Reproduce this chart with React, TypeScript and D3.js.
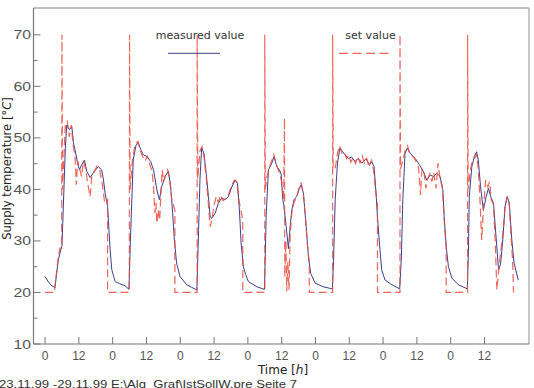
import React from 'react';
import * as d3 from 'd3';

// hours since 23.11.99 00:00, supply temperature in °C
const measured: [number, number][] = [
  [0, 23.1], [1, 22.2], [2, 21.5], [3.5, 20.9], [4.7, 26.3], [5.6, 28.3], [6, 29], [6.7, 40], [7.2, 48],
  [7.7, 52.5], [8.6, 51.6], [9.5, 52.2], [10.1, 49], [11, 46.7], [11.6, 45], [12.2, 43.8], [13, 44.8],
  [14, 45.7], [14.8, 43.5], [16, 42.3], [17.5, 43.5], [18.9, 44.4], [20.1, 43.8], [20.7, 42], [21.3, 39.3],
  [22.2, 36.7], [22.7, 32], [23.1, 28.3], [23.7, 24.4], [24.9, 22.1], [26.5, 21.7], [28.4, 21.3], [29.8, 20.6],
  [30.3, 30], [31.3, 45.7], [32.3, 48.6], [33.1, 49], [34, 47.7], [34.9, 46.7], [36.1, 46.4], [37.5, 45.4],
  [38.5, 43.8], [39.7, 39.9], [40.6, 38], [41.4, 40.5], [42.6, 42.5], [43.8, 43.5], [44.6, 40.5], [45.3, 35.4],
  [45.9, 30.2], [46.7, 25.7], [47.9, 23.1], [50.3, 21.5], [52, 21], [53.9, 20.5],
  [54.5, 32], [55, 42], [55.6, 48], [56.4, 47], [57.2, 43.1], [58, 38.6], [58.6, 34.7], [59.2, 34.4],
  [60.4, 35.4], [61.5, 37.3], [62.7, 38.3], [63.9, 38], [65.1, 38.6], [66.3, 40.5], [67.5, 41.8], [68.3, 41.2],
  [69, 36], [69.6, 29.6], [70.4, 25], [71.2, 23.5], [72.2, 22.1], [75.2, 21.1], [77.9, 20.6],
  [78.5, 35], [79.3, 43.8], [80.5, 45.1], [81.3, 46.4], [82.3, 44.4], [83.2, 43.8], [83.8, 43], [84.4, 38],
  [84.8, 36.7], [85.6, 32.8], [86.4, 28.5], [87, 32.8], [87.6, 36], [88.4, 38], [89.3, 38.6], [90.3, 40.2],
  [90.9, 40.9], [91.7, 39.3], [92.7, 32.8], [93.5, 27], [94.3, 23.7], [95.9, 21.8], [98.8, 21.1], [102, 20.7],
  [102.4, 26], [103, 38], [103.8, 45.1], [104.7, 48], [105.7, 47.3], [106.5, 46.7], [107.7, 46], [108.8, 46.3],
  [110, 45.4], [111.2, 46], [112.4, 45.1], [113, 45.4], [114, 46], [115.1, 44.8], [116, 45.4], [116.8, 44.4],
  [117.5, 39.3], [118, 34.7], [118.7, 29.6], [119.5, 24.4], [120.7, 22.4], [123.1, 21.5], [125.9, 20.7],
  [126.5, 27], [127, 38], [127.8, 47], [128.6, 48], [129.3, 47.3], [130.2, 46.7], [131.4, 46], [132.9, 44.8],
  [134.3, 43.5], [135.5, 41.8], [136.7, 42.8], [137.9, 42.5], [139.1, 43.1], [140.2, 42.5], [141.2, 40],
  [141.7, 34.7], [142.4, 28.9], [143.2, 25], [144.4, 22.8], [146.7, 21.5], [149.9, 20.7],
  [150.3, 28], [150.6, 38.6], [151.5, 44.4], [152.4, 46.4], [153.2, 47.3], [153.8, 45.7], [154.6, 40.5],
  [155.6, 36], [156.6, 38.6], [157.4, 40.2], [158.2, 38.6], [159.2, 37.3], [160, 31.5], [161, 24.4],
  [161.7, 25.5], [162.5, 30.2], [163.3, 36.7], [164.1, 38.6], [164.8, 37.3], [165.7, 30.2], [166.5, 25.7],
  [168, 22.4],
];

const setValue: [number, number][] = [
  [0, 20], [3.3, 20], [4.7, 27], [5.3, 28.6], [5.9, 28.6], [6, 70], [6.2, 40], [7.2, 52.8], [7.9, 53.2],
  [8.6, 50.2], [9.3, 52.5], [10, 48.5], [10.7, 46], [11.1, 40.9], [11.6, 45.5], [12.3, 44], [13, 42.5],
  [13.6, 45.5], [14.4, 44], [15.2, 41], [16, 38.6], [16.6, 42.5], [17.5, 43.5], [18.4, 44.5], [19.4, 43.8],
  [20.3, 41], [21.2, 37.3], [22.2, 38], [22.2, 20], [29.9, 20],
  [30, 70], [30.2, 40], [31, 45.5], [32, 48.8], [33, 49.3], [33.8, 47.5], [34.8, 46.2], [35.5, 45.5],
  [36.3, 46.5], [37.2, 44.8], [38, 43.5], [38.5, 40.5], [39, 35.4], [39.4, 37.4], [39.7, 33.4], [40.2, 36],
  [40.7, 34], [41.2, 40], [41.6, 43.8], [42.1, 41.5], [42.8, 42.8], [43.5, 43.8], [44.2, 42], [45, 38],
  [46.1, 36], [46.1, 20], [54, 20],
  [54, 70], [54.2, 42], [55, 47.5], [55.7, 48.3], [56.4, 46.5], [57.2, 42.5], [58, 37], [58.6, 32.8],
  [59.2, 34], [60, 37], [60.8, 38.6], [61.5, 37.5], [62.4, 38.9], [63.2, 37.8], [64, 38.2], [65, 38.8],
  [66, 40.5], [67.2, 41.8], [68, 41.5], [68.8, 38], [70.2, 34], [70.2, 20], [78, 20],
  [78, 70], [78.2, 40], [78.8, 42.5], [79.5, 44], [80.5, 45.6], [81.2, 46.8], [82, 45], [83, 43.5], [84, 41.5],
  [84.7, 38], [85, 53.8], [85.1, 23], [85.5, 30], [85.8, 20.2], [86.2, 26], [86.6, 20.5], [87, 31],
  [87.6, 35.5], [88.4, 37.5], [89.3, 38.4], [90.3, 40.6], [90.9, 41.2], [91.7, 39.3], [92.5, 34], [93.3, 28],
  [93.8, 26], [93.8, 20], [102.1, 20],
  [102.1, 70], [102.3, 44], [103, 44], [103.8, 47], [104.6, 48.5], [105.4, 47], [106.2, 47.3], [107, 46],
  [107.8, 46.6], [108.6, 45.3], [109.4, 46.2], [110.2, 45], [111, 46.3], [111.8, 45.2], [112.6, 46.5],
  [113.4, 45], [114.2, 46], [115, 44.3], [115.8, 45.6], [116.6, 43.8], [117.3, 40], [118, 37], [118, 20],
  [126, 20],
  [126, 70], [126.2, 44], [127.2, 46], [128, 48], [128.7, 48.5], [129.4, 47], [130.2, 46.5], [131, 46.2],
  [131.8, 45.3], [132.6, 44.2], [133.3, 38.9], [133.8, 44], [134.6, 43], [135.2, 40.2], [135.8, 42],
  [136.6, 43], [137.3, 41.5], [138, 43.2], [138.8, 40.2], [139.5, 45.1], [140.2, 42.2], [141, 40.5],
  [141.8, 33], [142.4, 29], [142.4, 20], [150, 20],
  [150, 70], [150.2, 40], [150.8, 43], [151.6, 45.5], [152.4, 46], [153.2, 46.8], [153.8, 44], [154.4, 38],
  [155, 30.2], [155.6, 36], [156.4, 41.8], [157.2, 40.5], [157.8, 41.5], [158.4, 38], [159.2, 37],
  [159.8, 30], [160.4, 20.5], [161, 24], [161.8, 28], [162.6, 32], [163.3, 36.5], [164, 38.6], [164.8, 37],
  [165.4, 31], [166, 26], [166.3, 20],
];

const xTickHours = [0, 12, 24, 36, 48, 60, 72, 84, 96, 108, 120, 132, 144, 156];
const xTickLabels = ['0', '12', '0', '12', '0', '12', '0', '12', '0', '12', '0', '12', '0', '12'];
const yTicks = [10, 15, 20, 25, 30, 35, 40, 45, 50, 55, 60, 65, 70];
const yTickLabels = [10, 20, 30, 40, 50, 60, 70];

const blue = '#3b3f8c';
const red = '#ec4a3c';
const sans = '"Liberation Sans", Arial, sans-serif';
const cm = '"DejaVu Sans", sans-serif';

export default function App() {
  const left = 33.5, right = 529, top = 8, bottom = 344;
  const x = d3.scaleLinear().domain([-4.1, 171.8]).range([left, right]);
  const y = d3.scaleLinear().domain([10, 75.2]).range([bottom, top]);
  const line = d3.line<[number, number]>().x(d => x(d[0])).y(d => y(d[1]));

  return (
    <svg width={534} height={388} style={{ position: 'absolute', left: 0, top: 0, background: '#fff' }}>
      <defs>
        <clipPath id="plot">
          <rect x={left} y={top} width={right - left} height={bottom - top} />
        </clipPath>
      </defs>

      {/* frame */}
      <line x1={left} x2={right} y1={top} y2={top} stroke="#aaa" strokeWidth={1.3} />
      <line x1={right} x2={right} y1={top} y2={bottom} stroke="#aaa" strokeWidth={1.3} />
      <line x1={left} x2={left} y1={top} y2={bottom} stroke="#777" strokeWidth={1.2} />
      <line x1={left} x2={right} y1={bottom} y2={bottom} stroke="#777" strokeWidth={1.2} />

      {/* y ticks */}
      {yTicks.map(v => (
        <line key={v} x1={left} x2={left + (v % 10 === 0 ? 7 : 4)} y1={y(v)} y2={y(v)} stroke="#777" strokeWidth={1} />
      ))}
      {yTickLabels.map(v => (
        <text key={v} x={31} y={y(v)} dy="0.36em" textAnchor="end" fontFamily={sans} fontSize={12.5}
          fill="#555" textLength={17.5} lengthAdjust="spacingAndGlyphs">{v}</text>
      ))}

      {/* x ticks */}
      {xTickHours.map((h, i) => (
        <g key={h}>
          <line x1={x(h)} x2={x(h)} y1={bottom} y2={bottom - 7} stroke="#777" strokeWidth={1} />
          <text x={x(h)} y={360} textAnchor="middle" fontFamily={sans} fontSize={12} fill="#555">{xTickLabels[i]}</text>
        </g>
      ))}

      {/* data */}
      <g clipPath="url(#plot)">
        <path d={line(measured) || ''} fill="none" stroke={blue} strokeWidth={1} />
        <path d={line(setValue) || ''} fill="none" stroke={red} strokeWidth={1.2} strokeDasharray="8,4" opacity={0.85} />
      </g>

      {/* legend */}
      <text x={200} y={39} textAnchor="middle" fontFamily={cm} fontSize={11} fill="#333">measured value</text>
      <line x1={168} x2={220} y1={53.3} y2={53.3} stroke={blue} strokeWidth={1} />
      <text x={370.5} y={39} textAnchor="middle" fontFamily={cm} fontSize={11} fill="#333">set value</text>
      <line x1={339} x2={390} y1={53.3} y2={53.3} stroke={red} strokeWidth={1.2} strokeDasharray="9,4.5" opacity={0.85} />

      {/* axis titles */}
      <text x={283} y={374} textAnchor="middle" fontFamily={cm} fontSize={12} fill="#222">
        Time <tspan>[</tspan><tspan fontStyle="italic">h</tspan><tspan>]</tspan>
      </text>
      <text transform="translate(10.5,168.5) rotate(-90)" textAnchor="middle" fontFamily={cm} fontSize={11.6} fill="#222">
        Supply temperature [°<tspan fontStyle="italic">C</tspan>]
      </text>

      {/* footer */}
      <text x={-1} y={387.5} fontFamily={sans} fontSize={11.5} fill="#333" textLength={298} lengthAdjust="spacingAndGlyphs">
        23.11.99 -29.11.99  E:\Alg_Graf\IstSollW.pre  Seite 7
      </text>
    </svg>
  );
}
